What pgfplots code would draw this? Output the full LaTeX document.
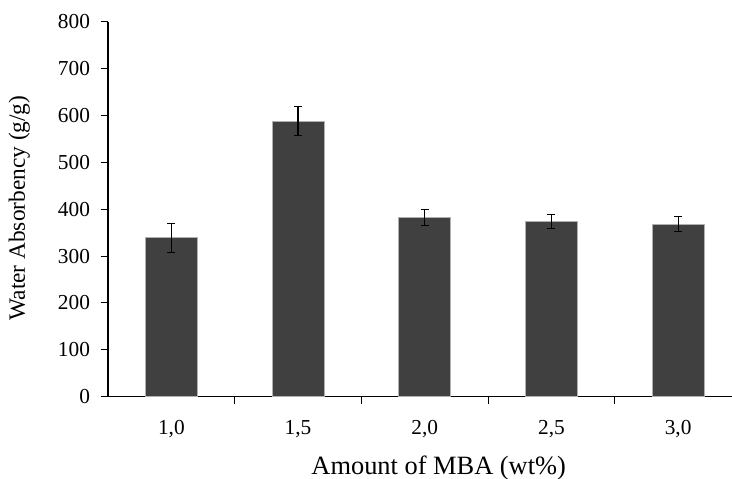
\documentclass[border=0pt]{standalone}
\usepackage{pgfplots}
\pgfplotsset{compat=1.18}
\usepackage{fontspec}
\setmainfont{Liberation Serif}
\definecolor{barc}{HTML}{404040}
\definecolor{edgec}{HTML}{B0B0B0}
\newcommand{\tfont}{\fontsize{16}{18}\selectfont}
\begin{document}
\begin{tikzpicture}[x=1pt,y=1pt]
\path[use as bounding box] (-81,-61.7) rectangle (468,297.5);
\begin{axis}[
  at={(0,0)}, anchor=origin,
  scale only axis, width=468pt, height=281.25pt,
  xmin=0.5, xmax=5.425, ymin=0, ymax=800,
  axis lines*=left,
  axis line style={black, line width=0.8pt},
  clip=false,
  ytick={0,100,...,800},
  yticklabel={\tfont\pgfmathprintnumber[assume math mode=true]{\tick}},
  xtick={1,2,3,4,5},
  xticklabels={{\tfont 1,0},{\tfont 1,5},{\tfont 2,0},{\tfont 2,5},{\tfont 3,0}},
  major x tick style={draw=none},
  minor xtick={1.5,2.5,3.5,4.5},
  extra x ticks={0.5}, extra x tick labels={},
  extra x tick style={major tick length=5.5pt, tick style={black, line width=0.8pt}},
  minor tick length=5.5pt,
  major tick length=5.5pt,
  tick align=outside,
  tick style={black, line width=0.8pt},
  xticklabel style={yshift=-9pt},
  yticklabel style={xshift=-4.5pt},
  xlabel={Amount of MBA (wt\%)},
  ylabel={Water Absorbency (g/g)},
  xlabel style={font=\fontsize{19.8}{22}\selectfont, at={(axis description cs:0.53,-0.19)}, anchor=center},
  ylabel style={font=\fontsize{17.5}{20}\selectfont, at={(axis description cs:-0.142,0.503)}, anchor=center},
]
\addplot[ybar, bar width=0.41, fill=barc, draw=edgec, line width=0.5pt,
  error bars/.cd, y dir=both, y explicit,
  error bar style={black, line width=0.9pt},
  error mark options={black, line width=0.9pt, rotate=90, mark size=3pt}]
  coordinates {
  (1,339) +- (0,31)
  (2,588) +- (0,31)
  (3,383) +- (0,17)
  (4,374) +- (0,15)
  (5,368) +- (0,16)
};
\end{axis}
\end{tikzpicture}
\end{document}
